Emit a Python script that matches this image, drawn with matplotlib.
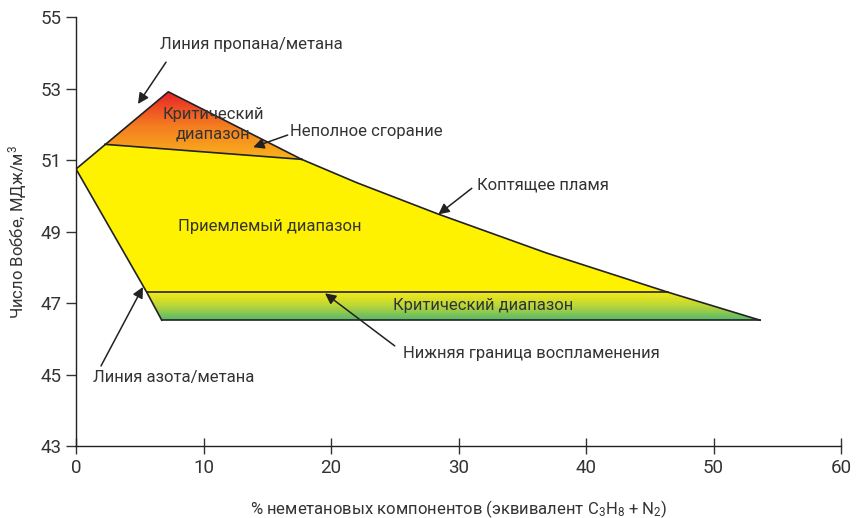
import numpy as np
import matplotlib
matplotlib.use('Agg')
import matplotlib.pyplot as plt
from matplotlib.patches import Polygon
from matplotlib.colors import LinearSegmentedColormap

plt.rcParams['font.family'] = ['Roboto', 'DejaVu Sans']
plt.rcParams['mathtext.fontset'] = 'custom'
plt.rcParams['mathtext.rm'] = 'Roboto'
plt.rcParams['mathtext.it'] = 'Roboto'

# граничные точки диаграммы (x - % неметановых, y - число Воббе)
left_pt = (0.0, 50.75)
apex = (7.24, 52.91)
incomplete_x = [2.27, 17.7]
incomplete_y = [51.44, 51.02]
soot_x = [17.7, 22.0, 28.4, 36.9, 46.45, 53.65]
soot_y = [51.02, 50.37, 49.49, 48.40, 47.30, 46.52]
lfl_x = [5.55, 46.45]
lfl_y = [47.30, 47.30]
bottom_x = [6.72, 53.65]
bottom_y = [46.52, 46.52]

xticks = [0, 10, 20, 30, 40, 50, 60]
yticks = [43, 45, 47, 49, 51, 53, 55]

txt = '#333333'
line_c = '#222222'

fig = plt.figure(figsize=(8.56, 5.18), dpi=100)
ax = fig.add_axes([0.0888, 0.139, 0.8937, 0.828])


def gradient_fill(ax, verts, colors):
    poly = Polygon(verts, closed=True, facecolor='none', edgecolor='none')
    ax.add_patch(poly)
    xs = [v[0] for v in verts]
    ys = [v[1] for v in verts]
    cmap = LinearSegmentedColormap.from_list('g', colors)
    grad = np.linspace(0, 1, 256).reshape(-1, 1)
    im = ax.imshow(grad, cmap=cmap, extent=[min(xs), max(xs), min(ys), max(ys)],
                   origin='lower', aspect='auto', zorder=1)
    im.set_clip_path(poly)


# красный треугольник (критический диапазон)
tri = [(incomplete_x[0], incomplete_y[0]), apex, (incomplete_x[1], incomplete_y[1])]
gradient_fill(ax, tri, ['#f9b31c', '#f47b20', '#e8202a'])

# жёлтая область (приемлемый диапазон)
yellow = [left_pt, (incomplete_x[0], incomplete_y[0])]
yellow += [(x, y) for x, y in zip(soot_x[:5], soot_y[:5])]
yellow += [(lfl_x[0], lfl_y[0])]
ax.add_patch(Polygon(yellow, closed=True, facecolor='#fff200', edgecolor='none', zorder=1))

# зелёная полоса (критический диапазон)
green = [(lfl_x[0], lfl_y[0]), (lfl_x[1], lfl_y[1]), (bottom_x[1], bottom_y[1]), (bottom_x[0], bottom_y[0])]
gradient_fill(ax, green, ['#55b86c', '#b8d63a', '#f7ea12'])

# контурные линии
lw = 1.2
ax.plot([left_pt[0], apex[0], incomplete_x[1]], [left_pt[1], apex[1], incomplete_y[1]], color=line_c, lw=lw, zorder=3)
ax.plot(incomplete_x, incomplete_y, color=line_c, lw=lw, zorder=3)
ax.plot(soot_x, soot_y, color=line_c, lw=lw, zorder=3)
ax.plot(lfl_x, lfl_y, color=line_c, lw=lw, zorder=3)
ax.plot(bottom_x, bottom_y, color=line_c, lw=lw, zorder=3)
ax.plot([left_pt[0], lfl_x[0], bottom_x[0]], [left_pt[1], lfl_y[0], bottom_y[0]], color=line_c, lw=lw, zorder=3)

# подписи внутри областей
fs = 12
ax.text(10.75, 52.0, 'Критический\nдиапазон', ha='center', va='center', fontsize=fs,
        color=txt, linespacing=1.4, zorder=4)
ax.text(15.2, 49.15, 'Приемлемый диапазон', ha='center', va='center', fontsize=fs, color=txt, zorder=4)
ax.text(31.9, 46.92, 'Критический диапазон', ha='center', va='center', fontsize=fs, color=txt, zorder=4)

# подписи со стрелками
arrow = dict(arrowstyle='-|>', color=line_c, lw=1.1, mutation_scale=16, shrinkA=0, shrinkB=0)
ax.annotate('', xy=(4.86, 52.57), xytext=(7.06, 53.74), arrowprops=arrow, zorder=5)
ax.text(6.6, 54.22, 'Линия пропана/метана', ha='left', va='center', fontsize=fs, color=txt)

ax.annotate('', xy=(13.9, 51.36), xytext=(16.6, 51.7), arrowprops=arrow, zorder=5)
ax.text(16.78, 51.81, 'Неполное сгорание', ha='left', va='center', fontsize=fs, color=txt)

ax.annotate('', xy=(28.42, 49.48), xytext=(31.04, 50.21), arrowprops=arrow, zorder=5)
ax.text(31.45, 50.30, 'Коптящее пламя', ha='left', va='center', fontsize=fs, color=txt)

ax.annotate('', xy=(19.53, 47.27), xytext=(25.0, 45.8), arrowprops=arrow, zorder=5)
ax.text(25.65, 45.6, 'Нижняя граница воспламенения', ha='left', va='center', fontsize=fs, color=txt)

ax.annotate('', xy=(5.25, 47.45), xytext=(1.96, 45.24), arrowprops=arrow, zorder=5)
ax.text(1.33, 44.93, 'Линия азота/метана', ha='left', va='center', fontsize=fs, color=txt)

ax.set_xlim(0, 60)
ax.set_ylim(43, 55)
ax.set_xticks(xticks)
ax.set_yticks(yticks)
ax.tick_params(axis='both', labelsize=13.5, colors=txt, length=7, width=1)
ax.tick_params(axis='x', direction='inout', length=12)
for s in ['top', 'right']:
    ax.spines[s].set_visible(False)
for s in ['left', 'bottom']:
    ax.spines[s].set_color(line_c)
    ax.spines[s].set_linewidth(1)

ax.set_xlabel(r'% неметановых компонентов (эквивалент C$_3$H$_8$ + N$_2$)', fontsize=12, color=txt, labelpad=15)
ax.set_ylabel(r'Число Воббе, МДж/м$^3$', fontsize=12, color=txt, labelpad=8)

fig.savefig('out.png', dpi=100)
